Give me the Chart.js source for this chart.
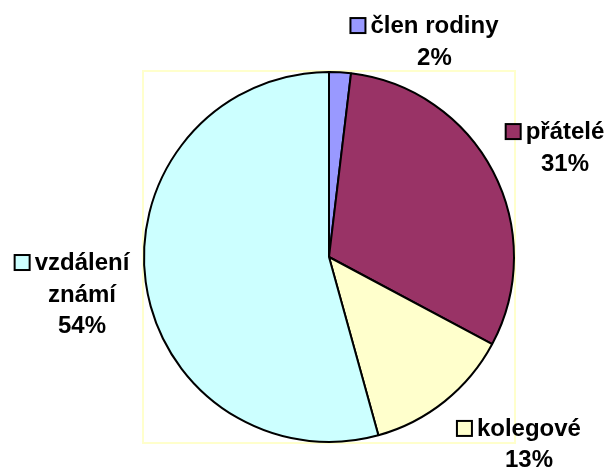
<!DOCTYPE html>
<html>
<head>
<meta charset="utf-8">
<script src="https://cdn.jsdelivr.net/npm/chart.js@4/dist/chart.umd.min.js"></script>
<style>
  html, body { margin: 0; padding: 0; background: #ffffff; }
  #wrap { width: 608px; height: 469px; }
</style>
</head>
<body>
<div id="wrap"><canvas id="c" width="608" height="469"></canvas></div>
<script>
// ---- data ----
const categories = ["člen rodiny", "přátelé", "kolegové", "vzdálení známí"];
const labelLines = [["člen rodiny"], ["přátelé"], ["kolegové"], ["vzdálení", "známí"]];
const values = [1.9, 30.9, 12.9, 54.3];
const percentLabels = ["2%", "31%", "13%", "54%"];

// ---- styles / layout ----
const colors = ["#9999FF", "#993366", "#FFFFCC", "#CCFFFF"];
// label anchor: text centre x and first baseline, as multiples of pie radius from centre
const labelAnchor = [
  [0.567, -1.204],
  [1.269, -0.634],
  [1.075, 0.962],
  [-1.328, 0.07]
];
const FONT = "bold 24px 'Liberation Sans', Arial, sans-serif";
const LINE_H = 31.5;
const KEY = 15;
const KEY_GAP = 5;

const labelPlugin = {
  id: 'excelLabels',
  beforeDatasetsDraw(chart) {
    const ctx = chart.ctx, a = chart.chartArea;
    ctx.save();
    ctx.strokeStyle = '#FFFFCC';
    ctx.lineWidth = 2;
    ctx.strokeRect(a.left, a.top, a.right - a.left, a.bottom - a.top);
    ctx.restore();
  },
  afterDatasetsDraw(chart) {
    const ctx = chart.ctx;
    const meta = chart.getDatasetMeta(0);
    const arc0 = meta.data[0];
    const cx = arc0.x, cy = arc0.y, R = arc0.outerRadius + 1;
    ctx.save();
    ctx.font = FONT;
    ctx.fillStyle = '#000';
    ctx.textBaseline = 'alphabetic';
    ctx.textAlign = 'center';
    categories.forEach((cat, i) => {
      const tx = cx + labelAnchor[i][0] * R;
      const by = cy + labelAnchor[i][1] * R;
      const lines = labelLines[i].concat([percentLabels[i]]);
      lines.forEach((ln, j) => {
        ctx.fillText(ln, tx, by + j * LINE_H);
      });
      const w = ctx.measureText(lines[0]).width;
      const kx = tx - w / 2 - KEY_GAP - KEY;
      const ky = by - KEY;
      ctx.fillStyle = colors[i];
      ctx.fillRect(kx, ky, KEY, KEY);
      ctx.lineWidth = 2;
      ctx.strokeStyle = '#000';
      ctx.strokeRect(kx, ky, KEY, KEY);
      ctx.fillStyle = '#000';
    });
    ctx.restore();
  }
};

new Chart(document.getElementById('c'), {
  type: 'pie',
  data: {
    labels: categories,
    datasets: [{
      data: values,
      backgroundColor: colors,
      borderColor: '#000000',
      borderWidth: 2,
      hoverOffset: 0,
      offset: 0
    }]
  },
  options: {
    responsive: false,
    animation: false,
    events: [],
    layout: { padding: { left: 143, top: 71, right: 93, bottom: 26 } },
    plugins: { legend: { display: false }, tooltip: { enabled: false } }
  },
  plugins: [labelPlugin]
});
</script>
</body>
</html>
